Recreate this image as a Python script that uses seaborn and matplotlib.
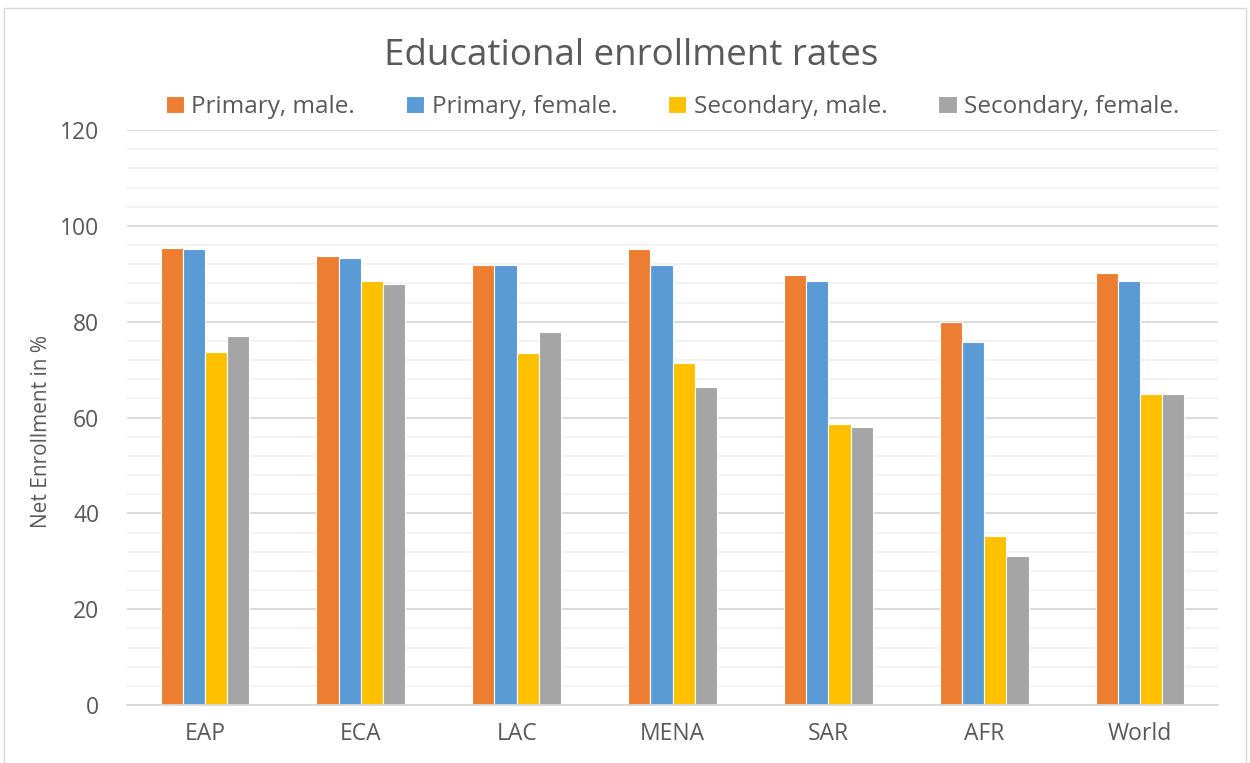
"""Educational enrollment rates by region."""
import numpy as np
import pandas as pd
import seaborn as sns

from matplotlib import pyplot as plt
from matplotlib.patches import Rectangle
from matplotlib.ticker import MultipleLocator


regions = ["EAP", "ECA", "LAC", "MENA", "SAR", "AFR", "World"]
series = ["Primary, male.", "Primary, female.",
          "Secondary, male.", "Secondary, female."]
primary_male = [95.4, 93.7, 91.8, 95.1, 89.7, 80.0, 90.1]
primary_female = [95.2, 93.3, 91.8, 91.8, 88.5, 75.8, 88.4]
secondary_male = [73.6, 88.5, 73.5, 71.3, 58.6, 35.3, 65.0]
secondary_female = [77.0, 87.9, 77.8, 66.4, 58.0, 31.2, 65.0]
colors = ["#ED7D31", "#5B9BD5", "#FFC000", "#A5A5A5"]

values = [primary_male, primary_female, secondary_male, secondary_female]
df = pd.DataFrame({
    "region": np.tile(regions, len(series)),
    "series": np.repeat(series, len(regions)),
    "value": np.concatenate(values),
})

sns.set_theme(style="white")
plt.rcParams["font.family"] = ["Open Sans", "DejaVu Sans"]
text_color = "#595959"

fig = plt.figure(figsize=(12.5, 7.63), dpi=100)
ax = fig.add_axes([0.1016, 0.076, 0.8728, 0.7536])

sns.barplot(
    data=df, x="region", y="value", hue="series",
    order=regions, hue_order=series, palette=colors,
    width=0.57, saturation=1, edgecolor="white", linewidth=0.8,
    ax=ax,
)

ax.set_xlim(-0.5, len(regions) - 0.5)
ax.set_ylim(0, 120)
ax.yaxis.set_major_locator(MultipleLocator(20))
ax.yaxis.set_minor_locator(MultipleLocator(4))
ax.grid(axis="y", which="major", color="#d9d9d9", linewidth=1.3)
ax.grid(axis="y", which="minor", color="#f2f2f2", linewidth=1.3)
ax.set_axisbelow(True)

for side in ["left", "right", "top"]:
    ax.spines[side].set_visible(False)
ax.spines["bottom"].set_color("#d9d9d9")
ax.spines["bottom"].set_linewidth(1.3)

ax.tick_params(axis="both", which="both", length=0, labelsize=16.5,
               labelcolor=text_color)
ax.tick_params(axis="x", pad=12)
ax.tick_params(axis="y", pad=20)
ax.set_xlabel("")
ax.set_ylabel("Net Enrollment in %", fontsize=15, color=text_color)
ax.yaxis.set_label_coords(-0.069, 0.476)

fig.text(0.505, 0.926, "Educational enrollment rates", ha="center",
         va="center", fontsize=26.5, color=text_color)

handles, labels = ax.get_legend_handles_labels()
ax.legend(
    handles, labels, loc="center", bbox_to_anchor=(0.5, 1.04), ncol=4,
    frameon=False, fontsize=17.5, labelcolor=text_color,
    handlelength=0.75, handleheight=0.75, handletextpad=0.3,
    columnspacing=2.1,
)

fig.patches.append(Rectangle((0.003, -0.01), 0.994, 1.0,
                             transform=fig.transFigure, fill=False,
                             edgecolor="#d9d9d9", linewidth=1))

plt.savefig("out.png", dpi=100, facecolor="w")
